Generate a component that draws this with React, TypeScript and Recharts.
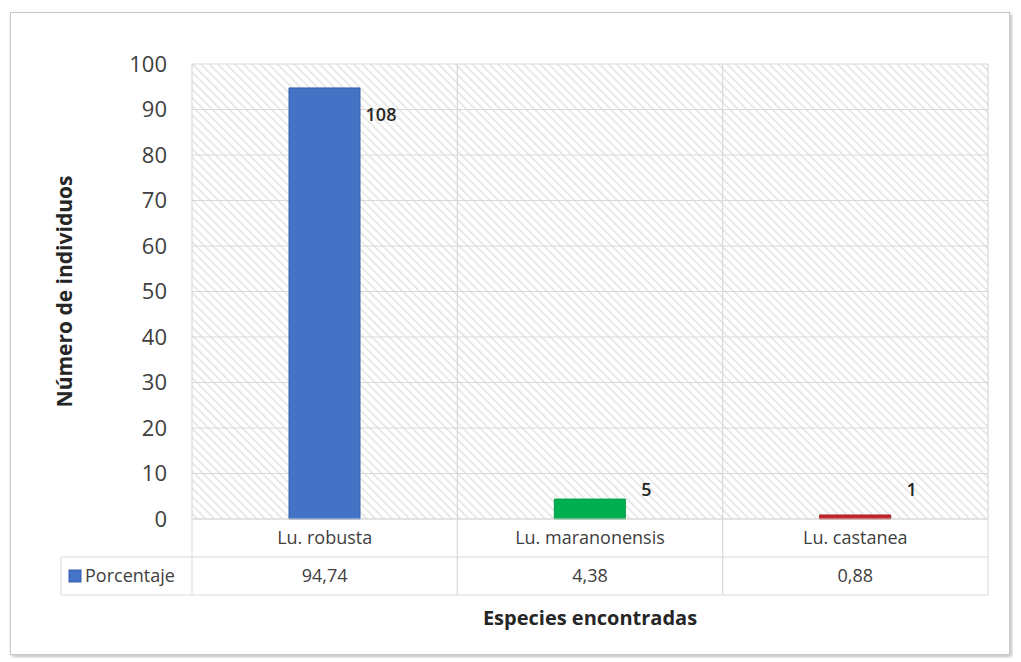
import React from "react";
import { BarChart, Bar, XAxis, YAxis, CartesianGrid, Cell, LabelList } from "recharts";

const species = ["Lu. robusta", "Lu. maranonensis", "Lu. castanea"];
const percentages = [94.74, 4.38, 0.88];
const counts = [108, 5, 1];
const barColors = ["#4472C4", "#00B050", "#C0282D"];
const barStrokes = ["#3560AE", "#009A45", "#A82025"];
const yTicks = [0, 10, 20, 30, 40, 50, 60, 70, 80, 90, 100];

const data = species.map((name, i) => ({
  name,
  pct: percentages[i],
  count: counts[i]
}));

const CHART_W = 1005;
const CHART_H = 650;
const MARGIN = { top: 56, right: 25, bottom: 39, left: 10 };
const Y_AXIS_W = 174;
const X_AXIS_H = 100;
const PLOT_LEFT = MARGIN.left + Y_AXIS_W;
const PLOT_W = CHART_W - PLOT_LEFT - MARGIN.right;
const CELL_W = PLOT_W / species.length;
const TABLE_LEFT = 53;
const ROW1_H = 38;
const ROW2_H = 38;

const FONT = "'Open Sans', sans-serif";
const TEXT = "#404040";
const LINE = "#d9d9d9";

function fmtPct(v: number) {
  return v.toFixed(2).replace(".", ",");
}

function TableTick(props: any) {
  const { x, y, payload, index } = props;
  const l = x - CELL_W / 2;
  const r = x + CELL_W / 2;
  const y1 = y + ROW1_H;
  const y2 = y1 + ROW2_H;
  return (
    <g>
      <line x1={l} y1={y} x2={l} y2={y2} stroke={LINE} />
      <line x1={r} y1={y} x2={r} y2={y2} stroke={LINE} />
      <line x1={l} y1={y1} x2={r} y2={y1} stroke={LINE} />
      <line x1={l} y1={y2} x2={r} y2={y2} stroke={LINE} />
      <text x={x} y={y + ROW1_H / 2} dy="0.35em" textAnchor="middle" fontSize={18} fill={TEXT} fontFamily={FONT}>
        {payload.value}
      </text>
      <text x={x} y={y1 + ROW2_H / 2} dy="0.35em" textAnchor="middle" fontSize={18} fill={TEXT} fontFamily={FONT}>
        {fmtPct(percentages[index])}
      </text>
      {index === 0 && (
        <g>
          <line x1={TABLE_LEFT} y1={y1} x2={l} y2={y1} stroke={LINE} />
          <line x1={TABLE_LEFT} y1={y2} x2={l} y2={y2} stroke={LINE} />
          <line x1={TABLE_LEFT} y1={y1} x2={TABLE_LEFT} y2={y2} stroke={LINE} />
          <rect x={TABLE_LEFT + 8} y={y1 + ROW2_H / 2 - 6} width={12} height={12} fill={barColors[0]} stroke={barStrokes[0]} />
          <text x={TABLE_LEFT + 24} y={y1 + ROW2_H / 2} dy="0.35em" fontSize={18} fill={TEXT} fontFamily={FONT}>
            Porcentaje
          </text>
        </g>
      )}
    </g>
  );
}

function CountLabel(props: any) {
  const { x, y, width, value } = props;
  const plotBottom = MARGIN.top + (CHART_H - MARGIN.top - MARGIN.bottom - X_AXIS_H);
  const ty = Math.min(y + 27, plotBottom - 29);
  return (
    <text x={x + width + 21} y={ty} dy="0.35em" textAnchor="middle" fontSize={18} fontWeight={600} fill="#262626" fontFamily={FONT}>
      {value}
    </text>
  );
}

export default function App() {
  return (
    <div style={{ position: "relative", width: CHART_W, height: CHART_H }}>
      <div
        style={{
          position: "absolute",
          left: 2,
          top: 4,
          width: 998,
          height: 641,
          border: "1px solid #c8c8c8",
          boxShadow: "2px 2px 4px rgba(0,0,0,0.25)",
          background: "#fff"
        }}
      />
      <div style={{ position: "absolute", left: 0, top: 0 }}>
        <BarChart width={CHART_W} height={CHART_H} data={data} margin={MARGIN} barSize={71}>
          <defs>
            <pattern id="hatch" width="6" height="6" patternUnits="userSpaceOnUse" patternTransform="rotate(-45)">
              <rect width="6" height="6" fill="#ffffff" />
              <line x1="0" y1="0" x2="0" y2="6" stroke="#dedede" strokeWidth="2.6" />
            </pattern>
          </defs>
          <CartesianGrid
            fill="url(#hatch)"
            stroke={LINE}
            strokeWidth={1.2}
            verticalCoordinatesGenerator={({ offset }: any) =>
              [0, 1, 2, 3].map((i) => offset.left + (offset.width / 3) * i)
            }
          />
          <XAxis
            dataKey="name"
            height={X_AXIS_H}
            tickLine={false}
            tickSize={0}
            tickMargin={0}
            axisLine={{ stroke: LINE }}
            tick={<TableTick />}
            interval={0}
            label={{
              content: ({ viewBox }: any) => (
                <text
                  x={viewBox.x + viewBox.width / 2}
                  y={viewBox.y + 106}
                  textAnchor="middle"
                  fontSize={20}
                  fontWeight={700}
                  fill="#262626"
                  fontFamily={FONT}
                >
                  Especies encontradas
                </text>
              )
            }}
          />
          <YAxis
            width={Y_AXIS_W}
            domain={[0, 100]}
            ticks={yTicks}
            interval={0}
            tickLine={false}
            axisLine={false}
            tickSize={0}
            tickMargin={25}
            tick={{ fontSize: 22, fill: TEXT, fontFamily: FONT }}
            label={{
              content: ({ viewBox }: any) => {
                const cx = viewBox.x + 47;
                const cy = viewBox.y + viewBox.height / 2;
                return (
                  <text
                    x={cx}
                    y={cy}
                    transform={`rotate(-90 ${cx} ${cy})`}
                    textAnchor="middle"
                    dy="0.35em"
                    fontSize={21}
                    fontWeight={700}
                    fill="#262626"
                    fontFamily={FONT}
                  >
                    Número de individuos
                  </text>
                );
              }
            }}
          />
          <Bar dataKey="pct" isAnimationActive={false}>
            {data.map((d, i) => (
              <Cell key={d.name} fill={barColors[i]} stroke={barStrokes[i]} />
            ))}
            <LabelList dataKey="count" content={<CountLabel />} />
          </Bar>
        </BarChart>
      </div>
    </div>
  );
}
